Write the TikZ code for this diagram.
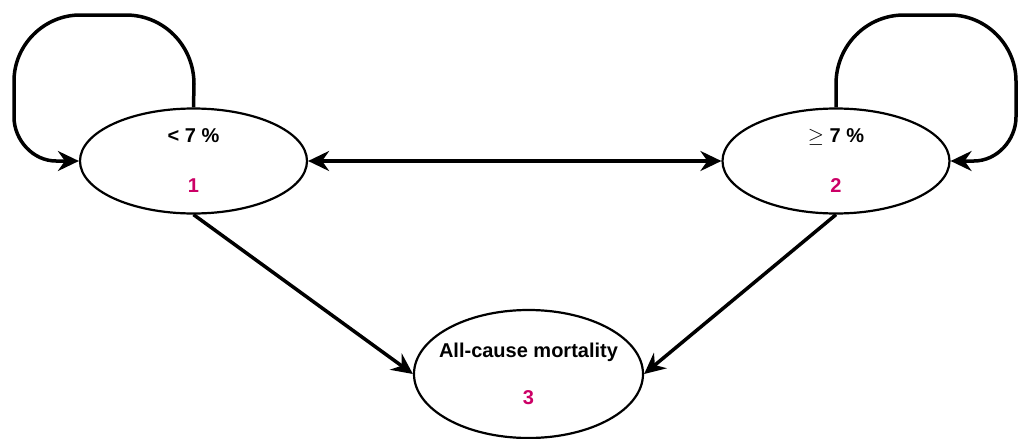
\documentclass[tikz,border=0pt]{standalone}
\usepackage{fontspec}
\setmainfont{Liberation Sans}
\usepackage{xcolor}
\usepackage{tikz}
\usetikzlibrary{arrows.meta,shapes.geometric}

\definecolor{idpink}{HTML}{CC0066}

\begin{document}
\begin{tikzpicture}[
  x=1pt, y=-1pt,
  state/.style={draw, ellipse, line width=2.2pt, minimum width=227pt,
    minimum height=105pt, inner sep=0pt, align=center,
    font=\fontsize{20}{24}\selectfont\bfseries},
  arr/.style={-{Stealth[length=21pt, width=20pt, inset=7pt]}, line width=3.5pt},
  biarr/.style={{Stealth[length=21pt, width=20pt, inset=7pt]}-{Stealth[length=21pt, width=20pt, inset=7pt]}, line width=3.5pt}
]
  \useasboundingbox (0,0) rectangle (1021,439);

  % States
  \node[state] (low) at (193.5,161) {< 7 \%\\[26pt]{\color{idpink}1}};
  \node[state] (high) at (836,161) {$\geq$ 7 \%\\[26pt]{\color{idpink}2}};
  \node[state, minimum width=229pt, minimum height=128pt, inner xsep=-30pt] (death) at (528.5,374)
    {All-cause mortality\\[23pt]{\color{idpink}3}};

  % Self loops
  \draw[arr] (low.north) -- (194,84) .. controls (194,46) and (164,15) .. (126,15)
    -- (80,15) .. controls (44,15) and (14,45) .. (14,81)
    -- (14,117) .. controls (14,140) and (33,161) .. (56,161) -- (low.west);
  \draw[arr] (high.north) -- (836,84) .. controls (836,46) and (866,15) .. (904,15)
    -- (950,15) .. controls (986,15) and (1016,45) .. (1016,81)
    -- (1016,117) .. controls (1016,140) and (997,161) .. (974,161) -- (high.east);

  % Transitions
  \draw[biarr] (low.east) -- (high.west);
  \draw[arr] (low.south) -- (death.west);
  \draw[arr] (high.south) -- (death.east);
\end{tikzpicture}
\end{document}
